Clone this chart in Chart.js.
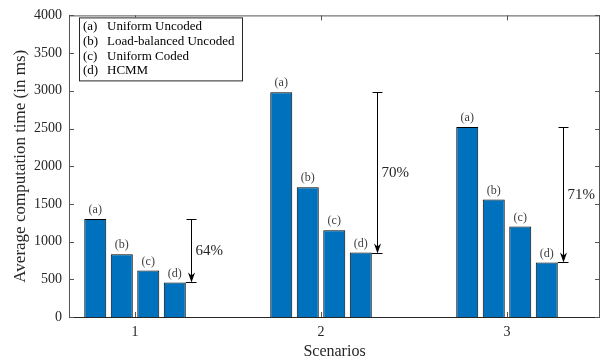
<!DOCTYPE html>
<html>
<head>
<meta charset="utf-8">
<script src="https://cdn.jsdelivr.net/npm/chart.js@4"></script>
<style>
  body { margin: 0; background: #fff; }
  #wrap { width: 602px; height: 364px; }
</style>
</head>
<body>
<div id="wrap"><canvas id="grafico" width="602" height="364"></canvas></div>
<script>
// Dados
const scenarios = [1, 2, 3];
const uniformUncoded = [1300, 2980, 2520];
const loadBalancedUncoded = [833, 1720, 1557];
const uniformCoded = [618, 1150, 1200];
const hcmm = [458, 855, 724];
const barTags = ["(a)", "(b)", "(c)", "(d)"];
const legendLabels = ["Uniform Uncoded", "Load-balanced Uncoded", "Uniform Coded", "HCMM"];
const reductions = ["64%", "70%", "71%"];
const yTicks = [0, 500, 1000, 1500, 2000, 2500, 3000, 3500, 4000];

const serif = "'Liberation Serif', 'DejaVu Serif', serif";
const axisColor = "#262626";
const barBlue = "#0072BD";

function serie(values) {
  return scenarios.map((s, i) => ({ x: s, y: values[i] }));
}

// desenha caixa dos eixos, ticks internos, rótulos, setas e legenda
const extras = {
  id: "extras",
  afterDatasetsDraw(chart) {
    const ctx = chart.ctx;
    const area = chart.chartArea;
    const xs = chart.scales.x;
    const ys = chart.scales.y;
    ctx.save();

    // caixa
    ctx.strokeStyle = "#555";
    ctx.lineWidth = 1;
    ctx.strokeRect(area.left + 0.5, area.top + 0.5, area.right - area.left - 1, area.bottom - area.top);
    ctx.strokeStyle = axisColor;
    ctx.beginPath();
    ctx.moveTo(area.left, area.bottom + 0.5);
    ctx.lineTo(area.right, area.bottom + 0.5);
    ctx.stroke();

    // ticks para dentro
    ctx.strokeStyle = "#555";
    ctx.beginPath();
    yTicks.forEach(v => {
      const py = Math.round(ys.getPixelForValue(v)) + 0.5;
      ctx.moveTo(area.left, py); ctx.lineTo(area.left + 5, py);
      ctx.moveTo(area.right, py); ctx.lineTo(area.right - 5, py);
    });
    scenarios.forEach(v => {
      const px = Math.round(xs.getPixelForValue(v)) + 0.5;
      ctx.moveTo(px, area.bottom); ctx.lineTo(px, area.bottom - 5);
      ctx.moveTo(px, area.top); ctx.lineTo(px, area.top + 5);
    });
    ctx.stroke();

    // rótulos (a)..(d) acima das barras
    ctx.fillStyle = "#404040";
    ctx.font = "12px " + serif;
    ctx.textAlign = "center";
    ctx.textBaseline = "middle";
    chart.data.datasets.forEach((ds, di) => {
      chart.getDatasetMeta(di).data.forEach(bar => {
        ctx.fillText(barTags[di], bar.x, bar.y - 9);
      });
    });

    // setas de redução
    const metaA = chart.getDatasetMeta(0).data;
    const metaD = chart.getDatasetMeta(3).data;
    ctx.strokeStyle = "#000";
    ctx.fillStyle = "#000";
    ctx.lineWidth = 1;
    metaD.forEach((dBar, i) => {
      const right = dBar.x + dBar.width / 2;
      const lx = Math.round(right + 5) + 0.5;
      const top = Math.round(metaA[i].y) + 0.5;
      const bot = Math.round(dBar.y) + 0.5;
      ctx.beginPath();
      ctx.moveTo(lx, top); ctx.lineTo(lx, bot - 4);
      ctx.moveTo(lx - 5, top); ctx.lineTo(lx + 5, top);
      ctx.moveTo(right, bot); ctx.lineTo(lx + 5, bot);
      ctx.stroke();
      ctx.beginPath();
      ctx.moveTo(lx, bot);
      ctx.lineTo(lx - 3.5, bot - 10);
      ctx.lineTo(lx, bot - 7);
      ctx.lineTo(lx + 3.5, bot - 10);
      ctx.closePath();
      ctx.fill();

      ctx.fillStyle = axisColor;
      ctx.font = "15px " + serif;
      ctx.textAlign = "left";
      ctx.fillText(reductions[i], lx + 4, (top + bot) / 2);
      ctx.fillStyle = "#000";
    });

    // legenda (só texto)
    const lx0 = area.left + 10, ly0 = area.top + 2;
    ctx.fillStyle = "#fff";
    ctx.fillRect(lx0, ly0, 163, 63);
    ctx.strokeStyle = axisColor;
    ctx.strokeRect(lx0 + 0.5, ly0 + 0.5, 163, 63);
    ctx.fillStyle = "#000";
    ctx.font = "13px " + serif;
    ctx.textAlign = "left";
    legendLabels.forEach((txt, i) => {
      const yy = ly0 + 9.5 + i * 14.7;
      ctx.fillText(barTags[i], lx0 + 4, yy);
      ctx.fillText(txt, lx0 + 28, yy);
    });

    ctx.restore();
  }
};

const datasetsFrom = [uniformUncoded, loadBalancedUncoded, uniformCoded, hcmm].map((vals, i) => ({
  label: legendLabels[i],
  data: serie(vals),
  backgroundColor: barBlue,
  borderColor: "#000",
  borderWidth: 1,
  categoryPercentage: 0.57,
  barPercentage: 0.83
}));

new Chart(document.getElementById("grafico"), {
  type: "bar",
  data: { datasets: datasetsFrom },
  options: {
    responsive: false,
    animation: false,
    layout: { padding: { top: 13, right: 2, left: 0, bottom: 0 } },
    plugins: { legend: { display: false }, tooltip: { enabled: false } },
    scales: {
      x: {
        type: "linear",
        min: 0.645,
        max: 3.5,
        offset: false,
        grid: { display: false, drawTicks: false, offset: false },
        border: { display: false },
        afterBuildTicks: s => { s.ticks = scenarios.map(v => ({ value: v })); },
        afterFit: s => { s.height = 47; },
        ticks: { color: axisColor, padding: 7, font: { family: serif, size: 14 }, maxRotation: 0, callback: v => String(v) },
        title: { display: true, text: "Scenarios", color: axisColor, font: { family: serif, size: 16 }, padding: { top: 0, bottom: 3 } }
      },
      y: {
        min: 0,
        max: 4000,
        grid: { display: false, drawTicks: false },
        border: { display: false },
        afterBuildTicks: s => { s.ticks = yTicks.map(v => ({ value: v })); },
        afterFit: s => { s.width = 69; },
        ticks: { color: axisColor, padding: 7, font: { family: serif, size: 14 }, callback: v => String(v) },
        title: { display: true, text: "Average computation time (in ms)", color: axisColor, font: { family: serif, size: 17 }, padding: { top: 10, bottom: 0 } }
      }
    }
  },
  plugins: [extras]
});
</script>
</body>
</html>
